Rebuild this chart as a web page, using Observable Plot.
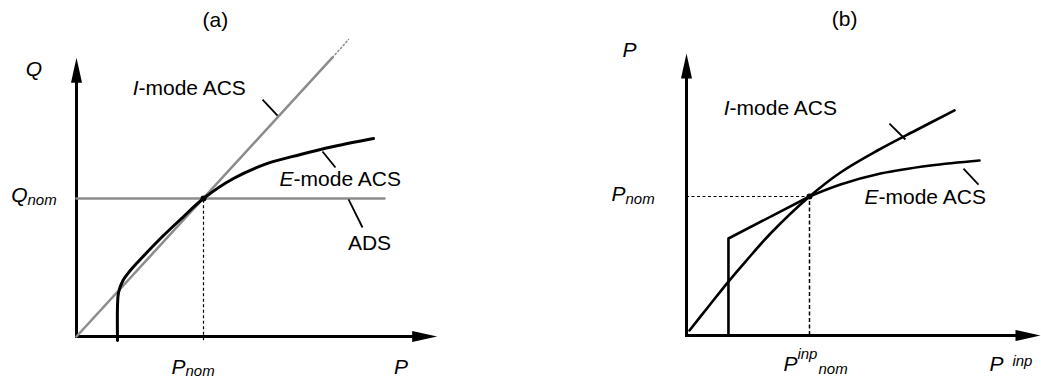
<!DOCTYPE html>
<html>
<head>
<meta charset="utf-8">
<script src="https://cdn.jsdelivr.net/npm/d3@7"></script>
<script src="https://cdn.jsdelivr.net/npm/@observablehq/plot@0.6"></script>
<style>
  html, body { margin: 0; padding: 0; background: #fff; }
  #wrap { display: flex; width: 1041px; height: 378px; overflow: hidden; }
  #wrap svg { flex: none; display: block; }
</style>
</head>
<body>
<div id="wrap"></div>
<script>
// ================= DATA =================
// Panel (a): Q vs P, in units of P_nom (x) and Q_nom (y)
const aAxisLines = [
  {P1: 0, Q1: 0, P2: 2.68, Q2: 0},
  {P1: 0, Q1: 0, P2: 0, Q2: 1.87}
];
const aAxisTips = [
  {P: 2.84, Q: 0, rot: 0},
  {P: 0, Q: 2.02, rot: -90}
];
const aImode = [{P: 0, Q: 0}, {P: 2.016, Q: 2.022}];
const aImodeDotted = [{P: 2.016, Q: 2.022}, {P: 2.142, Q: 2.152}];
const aADS = [{P: 0, Q: 1}, {P: 2.425, Q: 1}];
const aEmode = [
  {P: 0.323, Q: -0.029}, {P: 0.323, Q: 0.225}, {P: 0.331, Q: 0.319},
  {P: 0.362, Q: 0.399}, {P: 0.417, Q: 0.471}, {P: 0.480, Q: 0.536},
  {P: 0.661, Q: 0.710}, {P: 0.835, Q: 0.862}, {P: 1, Q: 1},
  {P: 1.236, Q: 1.145}, {P: 1.504, Q: 1.254}, {P: 1.764, Q: 1.319},
  {P: 2.024, Q: 1.377}, {P: 2.339, Q: 1.435}
];
const aNominal = [{P: 1, Q: 1, bottom: -0.03}];
const aLeaders = [
  {P1: 1.465, Q1: 1.717, P2: 1.583, Q2: 1.601},
  {P1: 1.937, Q1: 1.341, P2: 2.039, Q2: 1.225},
  {P1: 2.142, Q1: 0.993, P2: 2.252, Q2: 0.790}
];
const aTitle = [{P: 1.094, Q: 2.29, text: "(a)"}];
const aAxisLabels = [{P: -0.335, Q: 1.935, text: "Q"}, {P: 2.555, Q: -0.22, text: "P"}];
const aPrefix = [
  {P: 0.488, Q: 1.797, text: "I"},
  {P: 1.709, Q: 1.143, text: "E"},
  {P: -0.386, Q: 1.02, text: "Q"},
  {P: 0.858, Q: -0.22, text: "P"}
];
const aSuffix = [
  {P: 0.488, Q: 1.797, text: "-mode ACS"},
  {P: 1.709, Q: 1.143, text: "-mode ACS"}
];
const aPlain = [{P: 2.307, Q: 0.672, text: "ADS"}];
const aSub = [
  {P: -0.386, Q: 1.02, text: "nom"},
  {P: 0.858, Q: -0.22, text: "nom"}
];

// Panel (b): P vs P^inp, in units of P^inp_nom (x) and P_nom (y)
const bAxisLines = [
  {X1: 0, Y1: 0, X2: 2.72, Y2: 0},
  {X1: 0, Y1: 0, X2: 0, Y2: 1.88}
];
const bAxisTips = [
  {X: 2.878, Y: 0, rot: 0},
  {X: 0, Y: 2.029, rot: -90}
];
const bImode = [
  {X: 0.024, Y: 0.036}, {X: 0.179, Y: 0.209}, {X: 0.341, Y: 0.388},
  {X: 0.480, Y: 0.532}, {X: 0.683, Y: 0.734}, {X: 1, Y: 1},
  {X: 1.252, Y: 1.173}, {X: 1.553, Y: 1.331}, {X: 1.862, Y: 1.475},
  {X: 2.179, Y: 1.619}
];
const bEmodeStep = [{X: 0.341, Y: 0}, {X: 0.341, Y: 0.698}, {X: 1, Y: 1}];
const bEmodeCurve = [
  {X: 1, Y: 1}, {X: 1.252, Y: 1.086}, {X: 1.577, Y: 1.165},
  {X: 1.984, Y: 1.223}, {X: 2.382, Y: 1.259}
];
const bNominal = [{X: 1, Y: 1}];
const bLeaders = [
  {X1: 1.650, Y1: 1.525, X2: 1.780, Y2: 1.410},
  {X1: 2.252, Y1: 1.201, X2: 2.374, Y2: 1.086}
];
const bTitle = [{X: 1.285, Y: 2.273, text: "(b)"}];
const bAxisLabelY = [{X: -0.463, Y: 2.05, text: "P"}];
const bPrefix = [
  {X: 0.350, Y: 1.638, text: "I"},
  {X: 1.561, Y: 0.991, text: "E"},
  {X: -0.496, Y: 1.019, text: "P"},
  {X: 0.902, Y: -0.204, text: "P"}
];
const bSuffix = [
  {X: 0.350, Y: 1.638, text: "-mode ACS"},
  {X: 1.561, Y: 0.991, text: "-mode ACS"}
];
const bSub = [
  {X: -0.496, Y: 1.019, text: "nom"},
  {X: 1.073, Y: -0.204, text: "nom"}
];
const bSupNom = [{X: 0.902, Y: -0.204, text: "inp"}];
const bAxisLabelX = [{X: 2.463, Y: -0.204, text: "P"}];
const bSupAxis = [{X: 2.650, Y: -0.204, text: "inp"}];

// ================= DRAWING =================
const FONT = "'Liberation Sans', Arial, Helvetica, sans-serif";
const GRAY = "#8c8c8c";
const arrowHead = {
  draw(ctx) {
    ctx.moveTo(0, 0);
    ctx.lineTo(-25, -5.5);
    ctx.lineTo(-25, 5.5);
    ctx.closePath();
  }
};
const style = {fontFamily: FONT, background: "white", overflow: "visible", color: "black"};

const plotA = Plot.plot({
  width: 520, height: 378,
  x: {type: "linear", domain: [0, 1], range: [76, 203], axis: null},
  y: {type: "linear", domain: [0, 1], range: [336, 198], axis: null},
  style,
  marks: [
    Plot.link(aAxisLines, {x1: "P1", y1: "Q1", x2: "P2", y2: "Q2", stroke: "black", strokeWidth: 3, strokeLinecap: "square"}),
    Plot.dot(aAxisTips, {x: "P", y: "Q", rotate: "rot", symbol: arrowHead, fill: "black", stroke: "none", r: 5}),
    Plot.line(aImode, {x: "P", y: "Q", stroke: GRAY, strokeWidth: 2.5}),
    Plot.line(aImodeDotted, {x: "P", y: "Q", stroke: GRAY, strokeWidth: 1.5, strokeDasharray: "1.5,2.5"}),
    Plot.line(aADS, {x: "P", y: "Q", stroke: GRAY, strokeWidth: 2.5}),
    Plot.ruleX(aNominal, {x: "P", y1: "bottom", y2: "Q", stroke: "black", strokeWidth: 1.2, strokeDasharray: "3,2.5"}),
    Plot.line(aEmode, {x: "P", y: "Q", stroke: "black", strokeWidth: 3, curve: "catmull-rom"}),
    Plot.dot(aNominal, {x: "P", y: "Q", r: 3, fill: "black", stroke: "none"}),
    Plot.link(aLeaders, {x1: "P1", y1: "Q1", x2: "P2", y2: "Q2", stroke: "black", strokeWidth: 1.8}),
    Plot.text(aTitle, {x: "P", y: "Q", text: "text", fontSize: 21, textAnchor: "middle", fill: "black"}),
    Plot.text(aAxisLabels, {x: "P", y: "Q", text: "text", fontSize: 21, fontStyle: "italic", textAnchor: "middle", fill: "black"}),
    Plot.text(aPrefix, {x: "P", y: "Q", text: "text", fontSize: 21, fontStyle: "italic", textAnchor: "end", fill: "black"}),
    Plot.text(aSuffix, {x: "P", y: "Q", text: "text", fontSize: 21, textAnchor: "start", fill: "black"}),
    Plot.text(aPlain, {x: "P", y: "Q", text: "text", fontSize: 21, textAnchor: "middle", fill: "black"}),
    Plot.text(aSub, {x: "P", y: "Q", text: "text", fontSize: 15, fontStyle: "italic", textAnchor: "start", dy: 4, fill: "black"})
  ]
});

const plotB = Plot.plot({
  width: 521, height: 378,
  x: {type: "linear", domain: [0, 1], range: [166, 289], axis: null},
  y: {type: "linear", domain: [0, 1], range: [335, 196], axis: null},
  style,
  marks: [
    Plot.link(bAxisLines, {x1: "X1", y1: "Y1", x2: "X2", y2: "Y2", stroke: "black", strokeWidth: 3, strokeLinecap: "square"}),
    Plot.dot(bAxisTips, {x: "X", y: "Y", rotate: "rot", symbol: arrowHead, fill: "black", stroke: "none", r: 5}),
    Plot.ruleY(bNominal, {y: "Y", x1: 0, x2: "X", stroke: "black", strokeWidth: 1.2, strokeDasharray: "3,2.5"}),
    Plot.ruleX(bNominal, {x: "X", y1: 0, y2: "Y", stroke: "black", strokeWidth: 1.5, strokeDasharray: "4,2.5"}),
    Plot.line(bImode, {x: "X", y: "Y", stroke: "black", strokeWidth: 2.6, curve: "catmull-rom"}),
    Plot.line(bEmodeStep, {x: "X", y: "Y", stroke: "black", strokeWidth: 2.6}),
    Plot.line(bEmodeCurve, {x: "X", y: "Y", stroke: "black", strokeWidth: 2.6, curve: "catmull-rom"}),
    Plot.dot(bNominal, {x: "X", y: "Y", r: 3, fill: "black", stroke: "none"}),
    Plot.link(bLeaders, {x1: "X1", y1: "Y1", x2: "X2", y2: "Y2", stroke: "black", strokeWidth: 1.8}),
    Plot.text(bTitle, {x: "X", y: "Y", text: "text", fontSize: 21, textAnchor: "middle", fill: "black"}),
    Plot.text(bAxisLabelY, {x: "X", y: "Y", text: "text", fontSize: 21, fontStyle: "italic", textAnchor: "middle", fill: "black"}),
    Plot.text(bPrefix, {x: "X", y: "Y", text: "text", fontSize: 21, fontStyle: "italic", textAnchor: "end", fill: "black"}),
    Plot.text(bSuffix, {x: "X", y: "Y", text: "text", fontSize: 21, textAnchor: "start", fill: "black"}),
    Plot.text(bSub, {x: "X", y: "Y", text: "text", fontSize: 15, fontStyle: "italic", textAnchor: "start", dy: 5, fill: "black"}),
    Plot.text(bSupNom, {x: "X", y: "Y", text: "text", fontSize: 15, fontStyle: "italic", textAnchor: "start", dy: -10, fill: "black"}),
    Plot.text(bAxisLabelX, {x: "X", y: "Y", text: "text", fontSize: 21, fontStyle: "italic", textAnchor: "start", fill: "black"}),
    Plot.text(bSupAxis, {x: "X", y: "Y", text: "text", fontSize: 15, fontStyle: "italic", textAnchor: "start", dy: -3, fill: "black"})
  ]
});

const wrap = document.getElementById("wrap");
wrap.appendChild(plotA);
wrap.appendChild(plotB);
</script>
</body>
</html>
